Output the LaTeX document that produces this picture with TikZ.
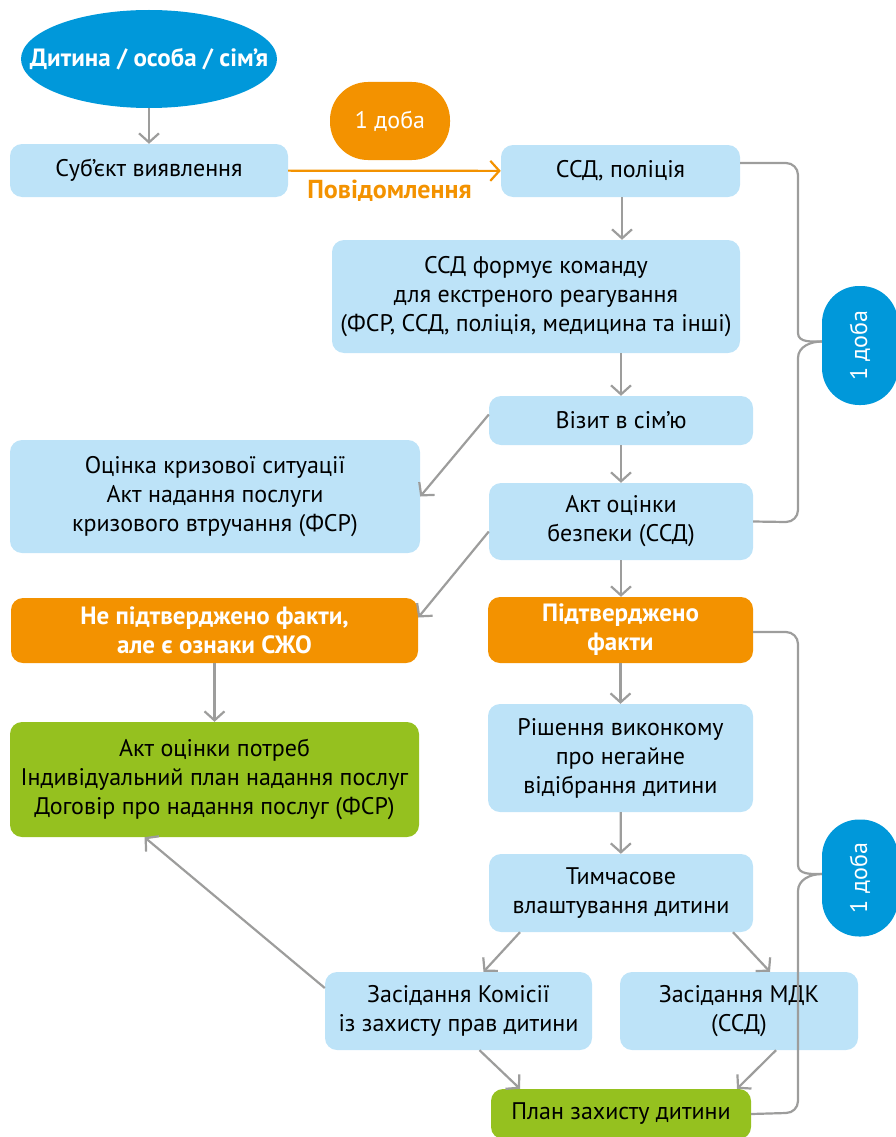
\documentclass[tikz,border=0pt]{standalone}
\usepackage{fontspec}
\setmainfont{PT Sans}
\usetikzlibrary{arrows.meta,shapes.geometric}
\definecolor{paleblue}{HTML}{BDE3F8}
\definecolor{darkorange}{HTML}{F39200}
\definecolor{deepblue}{HTML}{0098DA}
\definecolor{limegreen}{HTML}{95C11F}
\definecolor{linegray}{HTML}{9D9D9C}

\begin{document}
\begin{tikzpicture}[x=1pt, y=-1pt,
    every node/.style={font=\fontsize{24}{29}\selectfont, align=center, inner sep=0pt},
    stage/.style={rectangle, rounded corners=12pt, fill=paleblue, text=black},
    alert/.style={stage, fill=darkorange, text=white, font=\fontsize{25}{29}\selectfont\bfseries},
    result/.style={stage, fill=limegreen},
    pill/.style={rectangle, rounded corners=37pt, fill=#1, text=white},
    flow/.style={draw=linegray, line width=2.2pt, -{Straight Barb[length=9pt,width=20pt]}},
    brace/.style={draw=linegray, line width=2.2pt}]
    \useasboundingbox (0,0) rectangle (896,1137);

    \node[ellipse, fill=deepblue, text=white, inner xsep=-30pt, minimum width=256, minimum height=98,
          font=\fontsize{25}{29}\selectfont\bfseries] (child) at (149,59) {Дитина / особа / сім’я};
    \node[stage, minimum width=278, minimum height=53] (subject) at (149,170.5) {Суб’єкт виявлення};
    \node[pill=darkorange, rounded corners=38pt, minimum width=120, minimum height=78] (day) at (390,121) {1 доба};
    \node[stage, minimum width=239, minimum height=52] (ssd) at (620.5,171) {ССД, поліція};
    \node[stage, minimum width=408, minimum height=113] (team) at (536,296.5)
        {ССД формує команду\\для екстреного реагування\\(ФСР, ССД, поліція, медицина та інші)};
    \node[stage, minimum width=264, minimum height=49] (visit) at (621,420.5) {Візит в сім’ю};
    \node[stage, minimum width=410, minimum height=113] (crisis) at (215,496.5)
        {Оцінка кризової ситуації\\Акт надання послуги\\кризового втручання (ФСР)};
    \node[stage, minimum width=264, minimum height=77] (safety) at (621,521.5) {Акт оцінки\\безпеки (ССД)};
    \node[alert, minimum width=407, minimum height=65] (unconfirmed) at (214.5,630.5)
        {Не підтверджено факти,\\але є ознаки СЖО};
    \node[alert, minimum width=265, minimum height=66] (confirmed) at (620.5,630) {Підтверджено\\факти};
    \node[result, minimum width=409, minimum height=115] (needs) at (214.5,779.5)
        {Акт оцінки потреб\\Індивідуальний план  надання послуг\\Договір про надання послуг (ФСР)};
    \node[stage, minimum width=265, minimum height=108] (decision) at (620.5,758)
        {Рішення виконкому\\про негайне\\відібрання дитини};
    \node[stage, minimum width=264, minimum height=78] (placement) at (621,893)
        {Тимчасове\\влаштування дитини};
    \node[stage, minimum width=267, minimum height=78] (commission) at (458.5,1011)
        {Засідання Комісії\\із захисту прав дитини};
    \node[stage, minimum width=238, minimum height=78] (mdk) at (739,1011) {Засідання МДК\\(ССД)};
    \node[result, minimum width=260, minimum height=50] (plan) at (621,1114) {План захисту дитини};
    \node[pill=deepblue, rotate=90, minimum width=119, minimum height=76] (dayA) at (860,345.5) {1 доба};
    \node[pill=deepblue, rotate=90, minimum width=117, minimum height=76] (dayB) at (860,878) {1 доба};

    \draw[flow] (child) -- (subject);
    \draw[flow, draw=darkorange] (subject) -- (ssd)
        node[midway, below=8pt, xshift=-5pt, text=darkorange, font=\fontsize{26}{29}\selectfont\bfseries] {Повідомлення};
    \draw[flow] ([xshift=1.5]ssd.south) -- ([xshift=1.5]ssd.south |- team.north);
    \draw[flow] (visit.north |- team.south) -- (visit);
    \draw[flow] ([yshift=6]visit.west) -- (crisis.east);
    \draw[flow] (visit) -- (safety);
    \draw[flow] ([yshift=-10]safety.west) -- ([yshift=13]unconfirmed.east);
    \draw[flow] (safety) -- (safety.south |- confirmed.north);
    \draw[flow] (unconfirmed) -- (needs);
    \draw[flow] (confirmed) -- (decision);
    \draw[flow] (decision) -- (placement);
    \draw[flow] ([xshift=-101]placement.south) -- ([xshift=25]commission.north);
    \draw[flow] ([xshift=112]placement.south) -- ([xshift=31]mdk.north);
    \draw[flow] ([xshift=21]commission.south) -- ([xshift=-101]plan.north);
    \draw[flow] ([xshift=37]mdk.south) -- ([xshift=116]plan.north);
    \draw[flow] ([yshift=23]commission.west) -- ([xshift=-70]needs.south);

    \draw[brace] ([yshift=8]ssd.east) -- (786,163) to[out=0,in=90] (798,175) -- (798,333)
        to[out=-90,in=180] ([yshift=4]dayA.north);
    \draw[brace] (safety.east) -- (786,522) to[out=0,in=-90] (798,510) -- (798,358)
        to[out=90,in=180] ([yshift=4]dayA.north);
    \draw[brace] ([yshift=-2]confirmed.east) -- (786,632) to[out=0,in=90] (798,644) -- (798,865)
        to[out=-90,in=180] ([yshift=4]dayB.north);
    \draw[brace] (plan.east) -- (786,1113) to[out=0,in=-90] (798,1101) -- (798,891)
        to[out=90,in=180] ([yshift=4]dayB.north);
\end{tikzpicture}
\end{document}
